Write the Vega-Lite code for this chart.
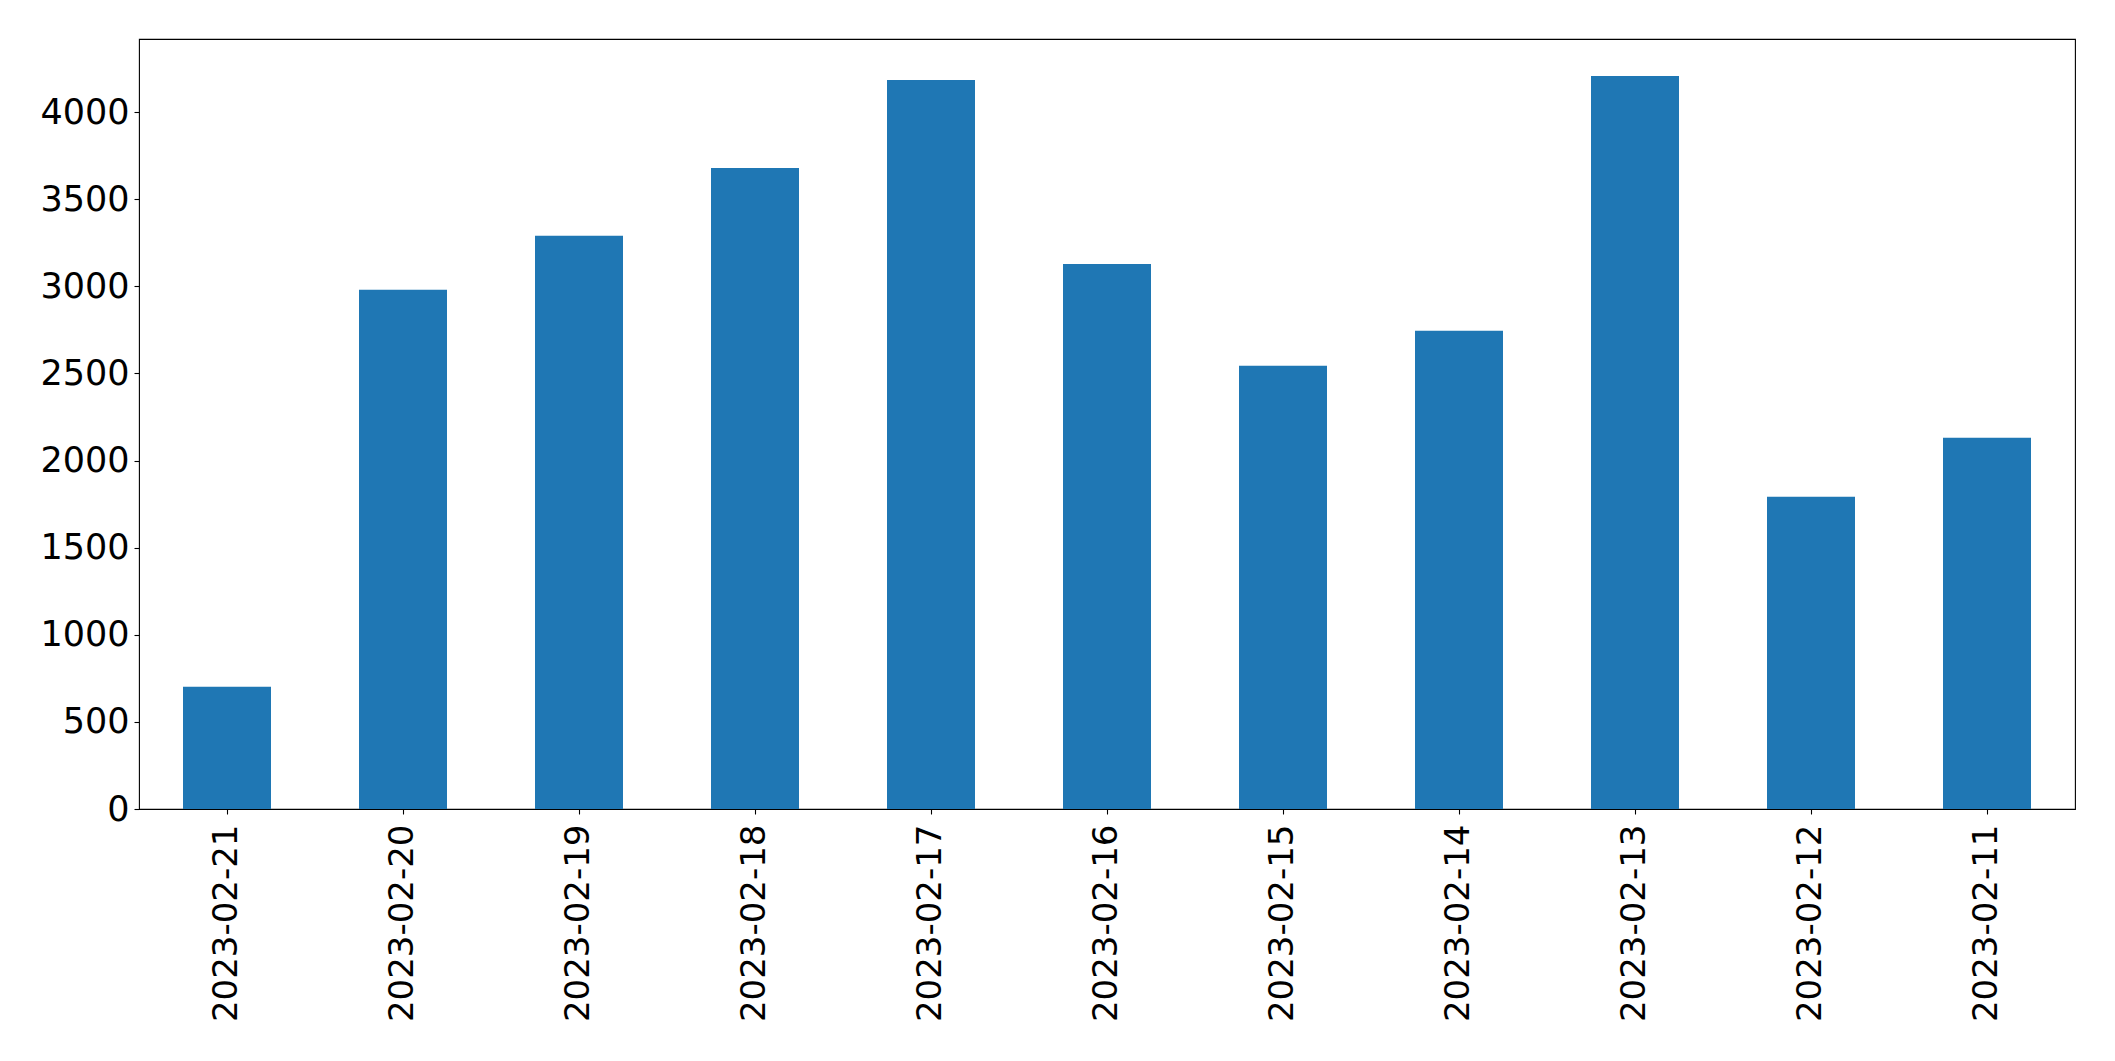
{
  "$schema": "https://vega.github.io/schema/vega-lite/v6.json",
  "autosize": {"type": "none"},
  "padding": {"left": 139, "top": 39, "right": 40, "bottom": 252},
  "width": 1936,
  "height": 770,
  "background": "white",
  "config": {
    "view": {"stroke": "black", "strokeWidth": 1.1},
    "font": "DejaVu Sans"
  },
  "data": {
    "values": [
      {"date": "2023-02-21", "count": 702},
      {"date": "2023-02-20", "count": 2980},
      {"date": "2023-02-19", "count": 3290},
      {"date": "2023-02-18", "count": 3680},
      {"date": "2023-02-17", "count": 4185},
      {"date": "2023-02-16", "count": 3129},
      {"date": "2023-02-15", "count": 2544},
      {"date": "2023-02-14", "count": 2745},
      {"date": "2023-02-13", "count": 4208},
      {"date": "2023-02-12", "count": 1792},
      {"date": "2023-02-11", "count": 2131}
    ]
  },
  "mark": {"type": "bar", "color": "#1f77b4"},
  "encoding": {
    "x": {
      "field": "date",
      "type": "nominal",
      "sort": null,
      "scale": {"paddingInner": 0.5, "paddingOuter": 0.25},
      "axis": {
        "title": null,
        "labelAngle": -90,
        "labelLimit": 0,
        "labelFont": "DejaVu Sans",
        "labelFontSize": 34,
        "labelColor": "black",
        "labelPadding": 10,
        "tickColor": "black",
        "tickSize": 5,
        "tickWidth": 1.1,
        "domain": false,
        "grid": false
      }
    },
    "y": {
      "field": "count",
      "type": "quantitative",
      "scale": {"domain": [0, 4420], "nice": false, "zero": true},
      "axis": {
        "title": null,
        "format": "d",
        "values": [0, 500, 1000, 1500, 2000, 2500, 3000, 3500, 4000],
        "labelFont": "DejaVu Sans",
        "labelFontSize": 35,
        "labelColor": "black",
        "labelPadding": 5,
        "tickColor": "black",
        "tickSize": 5,
        "tickWidth": 1.1,
        "domain": false,
        "grid": false
      }
    }
  }
}
